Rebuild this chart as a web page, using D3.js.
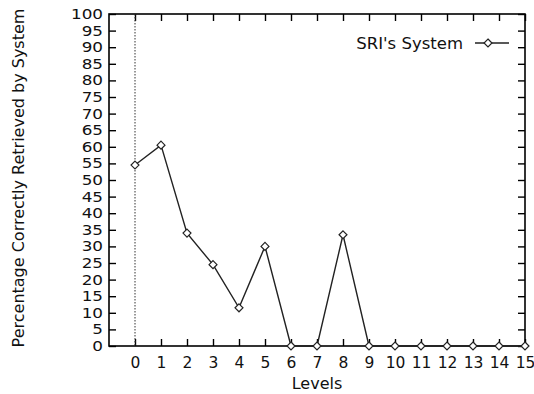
<!DOCTYPE html>
<html>
<head>
<meta charset="utf-8">
<script src="https://cdn.jsdelivr.net/npm/d3@7"></script>
<style>
  body { margin: 0; background: #fff; }
  svg { font-family: "DejaVu Sans", "Liberation Sans", Arial, sans-serif; }
</style>
</head>
<body>
<div id="chart"></div>
<script>
// levels and retrieval percentages
var levels = [0, 1, 2, 3, 4, 5, 6, 7, 8, 9, 10, 11, 12, 13, 14, 15];
var sriValues = [54.5, 60.5, 34, 24.5, 11.5, 30, 0, 0, 33.5, 0, 0, 0, 0, 0, 0, 0];
var yTicks = d3.range(0, 101, 5);
var seriesName = "SRI's System";

var width = 534, height = 394;
var margin = {top: 14, right: 9, bottom: 48, left: 109};

var svg = d3.select("#chart").append("svg")
    .attr("width", width)
    .attr("height", height);

var x = d3.scaleLinear().domain([-1, 15]).range([margin.left, width - margin.right]);
var y = d3.scaleLinear().domain([0, 100]).range([height - margin.bottom, margin.top]);

var g = svg.append("g");

// ticks on all four sides, pointing inward
var xAxis = g.append("g").attr("transform", "translate(0," + y(0) + ")")
    .call(d3.axisBottom(x).tickValues(levels).tickSizeInner(-7).tickSizeOuter(0).tickPadding(11));
var xTop = g.append("g").attr("transform", "translate(0," + y(100) + ")")
    .call(d3.axisTop(x).tickValues(levels).tickSizeInner(-7).tickSizeOuter(0).tickFormat(""));
var yAxis = g.append("g").attr("transform", "translate(" + x(-1) + ",0)")
    .call(d3.axisLeft(y).tickValues(yTicks).tickSizeInner(-7).tickSizeOuter(0).tickPadding(6));
var yRight = g.append("g").attr("transform", "translate(" + x(15) + ",0)")
    .call(d3.axisRight(y).tickValues(yTicks).tickSizeInner(-7).tickSizeOuter(0).tickFormat(""));

[xAxis, xTop, yAxis, yRight].forEach(function(a) {
    a.select(".domain").remove();
    a.selectAll("line").attr("stroke", "#000").attr("stroke-width", 1.4);
    a.selectAll("text").attr("fill", "#111")
        .attr("font-family", "DejaVu Sans, Liberation Sans, Arial, sans-serif");
});
xAxis.selectAll("text").attr("font-size", 15.5);
// y labels: smaller font, stretched sideways like the scan
yAxis.selectAll("text")
    .attr("font-size", 14)
    .attr("x", -5)
    .attr("transform", "scale(1.2,1)");

// frame
g.append("rect")
    .attr("x", x(-1)).attr("y", y(100))
    .attr("width", x(15) - x(-1)).attr("height", y(0) - y(100))
    .attr("fill", "none").attr("stroke", "#000").attr("stroke-width", 1.6);

// dotted zero line
g.append("line")
    .attr("x1", x(0)).attr("x2", x(0))
    .attr("y1", y(100)).attr("y2", y(0))
    .attr("stroke", "#333").attr("stroke-width", 1)
    .attr("stroke-dasharray", "1.5,1.5");

var pts = levels.map(function(l, i) { return [l, sriValues[i]]; });

var line = d3.line()
    .x(function(d) { return x(d[0]); })
    .y(function(d) { return y(d[1]); });

g.append("path")
    .datum(pts)
    .attr("d", line)
    .attr("fill", "none")
    .attr("stroke", "#222")
    .attr("stroke-width", 1.4);

var diamond = d3.symbol().type(d3.symbolDiamond2).size(40);

g.selectAll(".pt")
    .data(pts)
    .enter().append("path")
    .attr("class", "pt")
    .attr("d", diamond)
    .attr("transform", function(d) { return "translate(" + x(d[0]) + "," + y(d[1]) + ")"; })
    .attr("fill", "#fff")
    .attr("stroke", "#222")
    .attr("stroke-width", 1.2);

// legend
var leg = g.append("g").attr("transform", "translate(0,43)");
leg.append("text")
    .attr("x", 463).attr("y", 6)
    .attr("text-anchor", "end")
    .attr("font-size", 16.5)
    .attr("fill", "#111")
    .text(seriesName);
leg.append("line")
    .attr("x1", 475).attr("x2", 509).attr("y1", 0).attr("y2", 0)
    .attr("stroke", "#222").attr("stroke-width", 1.4);
leg.append("path")
    .attr("d", diamond)
    .attr("transform", "translate(488,0)")
    .attr("fill", "#fff").attr("stroke", "#222").attr("stroke-width", 1.2);

// axis titles
svg.append("text")
    .attr("x", (x(-1) + x(15)) / 2).attr("y", 389)
    .attr("text-anchor", "middle")
    .attr("font-size", 16)
    .attr("fill", "#111")
    .text("Levels");

svg.append("text")
    .attr("transform", "translate(24,178) rotate(-90)")
    .attr("text-anchor", "middle")
    .attr("font-size", 16)
    .attr("fill", "#111")
    .text("Percentage Correctly Retrieved by System");
</script>
</body>
</html>
